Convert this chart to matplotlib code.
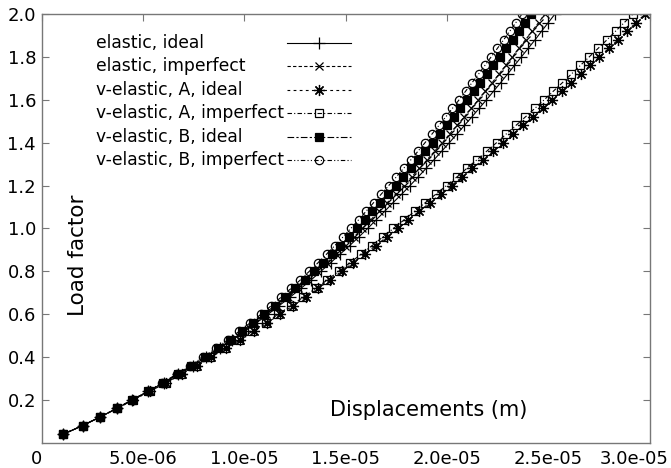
import matplotlib
matplotlib.use("Agg")
import matplotlib.pyplot as plt

# load steps (load factor) and displacements (in 1e-6 m)
load = [0.04, 0.08, 0.12, 0.16, 0.20, 0.24, 0.28, 0.32, 0.36, 0.40,
        0.44, 0.48, 0.52, 0.56, 0.60, 0.64, 0.68, 0.72, 0.76, 0.80,
        0.84, 0.88, 0.92, 0.96, 1.00, 1.04, 1.08, 1.12, 1.16, 1.20,
        1.24, 1.28, 1.32, 1.36, 1.40, 1.44, 1.48, 1.52, 1.56, 1.60,
        1.64, 1.68, 1.72, 1.76, 1.80, 1.84, 1.88, 1.92, 1.96, 2.00]

elastic_ideal = [1.07, 2.02, 2.88, 3.70, 4.47, 5.26, 6.02, 6.75, 7.45, 8.12,
                 8.78, 9.41, 10.02, 10.61, 11.18, 11.73, 12.27, 12.79, 13.30, 13.78,
                 14.26, 14.73, 15.20, 15.65, 16.09, 16.51, 16.93, 17.34, 17.77, 18.18,
                 18.58, 18.97, 19.36, 19.74, 20.12, 20.49, 20.86, 21.23, 21.59, 21.95,
                 22.30, 22.65, 22.99, 23.33, 23.67, 24.01, 24.35, 24.67, 25.00, 25.33]

elastic_imperfect = [1.07, 2.02, 2.88, 3.70, 4.47, 5.25, 6.01, 6.73, 7.43, 8.09,
                     8.74, 9.35, 9.95, 10.52, 11.08, 11.62, 12.14, 12.65, 13.14, 13.61,
                     14.07, 14.53, 14.97, 15.41, 15.83, 16.24, 16.65, 17.05, 17.47, 17.87,
                     18.26, 18.64, 19.02, 19.39, 19.77, 20.13, 20.49, 20.85, 21.20, 21.55,
                     21.89, 22.23, 22.57, 22.90, 23.23, 23.55, 23.88, 24.20, 24.52, 24.84]

velastic_a_ideal = [1.07, 2.02, 2.89, 3.73, 4.52, 5.35, 6.15, 6.92, 7.66, 8.37,
                    9.10, 9.80, 10.48, 11.14, 11.78, 12.42, 13.04, 13.65, 14.24, 14.81,
                    15.38, 15.94, 16.49, 17.03, 17.56, 18.10, 18.63, 19.16, 19.70, 20.23,
                    20.75, 21.26, 21.77, 22.27, 22.77, 23.26, 23.75, 24.24, 24.72, 25.20,
                    25.67, 26.14, 26.60, 27.06, 27.52, 27.98, 28.44, 28.88, 29.33, 29.78]

velastic_a_imperfect = [1.07, 2.02, 2.89, 3.73, 4.52, 5.34, 6.13, 6.89, 7.62, 8.32,
                        9.04, 9.73, 10.40, 11.05, 11.68, 12.31, 12.92, 13.52, 14.10, 14.66,
                        15.22, 15.77, 16.31, 16.84, 17.36, 17.89, 18.41, 18.93, 19.46, 19.98,
                        20.49, 20.98, 21.48, 21.96, 22.45, 22.92, 23.40, 23.87, 24.34, 24.80,
                        25.25, 25.70, 26.14, 26.58, 27.02, 27.46, 27.90, 28.32, 28.75, 29.18]

velastic_b_ideal = [1.07, 2.02, 2.88, 3.70, 4.47, 5.25, 5.99, 6.71, 7.39, 8.05,
                    8.68, 9.29, 9.87, 10.44, 10.98, 11.50, 12.01, 12.50, 12.98, 13.43,
                    13.87, 14.31, 14.73, 15.15, 15.55, 15.94, 16.32, 16.70, 17.09, 17.47,
                    17.85, 18.21, 18.58, 18.93, 19.29, 19.64, 19.98, 20.33, 20.66, 21.00,
                    21.33, 21.65, 21.98, 22.29, 22.61, 22.92, 23.24, 23.54, 23.85, 24.15]

velastic_b_imperfect = [1.07, 2.02, 2.88, 3.70, 4.47, 5.23, 5.96, 6.66, 7.33, 7.97,
                        8.59, 9.18, 9.75, 10.30, 10.83, 11.34, 11.83, 12.31, 12.77, 13.21,
                        13.64, 14.06, 14.47, 14.87, 15.26, 15.64, 16.01, 16.38, 16.76, 17.13,
                        17.50, 17.86, 18.22, 18.57, 18.92, 19.26, 19.60, 19.94, 20.27, 20.60,
                        20.92, 21.24, 21.56, 21.87, 22.18, 22.49, 22.80, 23.10, 23.40, 23.70]

labels = ["elastic, ideal", "elastic, imperfect", "v-elastic, A, ideal",
          "v-elastic, A, imperfect", "v-elastic, B, ideal", "v-elastic, B, imperfect"]
series = [elastic_ideal, elastic_imperfect, velastic_a_ideal,
          velastic_a_imperfect, velastic_b_ideal, velastic_b_imperfect]

xticks = [0, 5e-6, 1e-5, 1.5e-5, 2e-5, 2.5e-5, 3e-5]
xticklabels = ["0", "5.0e-06", "1.0e-05", "1.5e-05", "2.0e-05", "2.5e-05", "3.0e-05"]
yticks = [0.2, 0.4, 0.6, 0.8, 1.0, 1.2, 1.4, 1.6, 1.8, 2.0]

# line styles in the gnuplot look
styles = [
    dict(ls="-", marker="+", ms=8, mfc="none"),
    dict(ls=(0, (3, 2)), marker="x", ms=6, mfc="none"),
    dict(ls=(0, (2.5, 3)), marker=(8, 2, 0), ms=8, mfc="none"),
    dict(ls=(0, (4, 2, 1, 2)), marker="s", ms=6, mfc="none"),
    dict(ls=(0, (6, 2, 2, 2)), marker="s", ms=6, mfc="black"),
    dict(ls=(0, (4, 2, 1, 2, 1, 2)), marker="o", ms=6, mfc="none"),
]

fig = plt.figure(figsize=(6.71, 4.68), dpi=100)
ax = fig.add_axes([0.0621, 0.054, 0.906, 0.916])

for ys, st in zip(series, styles):
    xs = [v * 1e-6 for v in ys]
    ax.plot(xs, load, color="black", lw=0.8, mec="black", mew=0.9, **st)

ax.set_xlim(0, 3e-5)
ax.set_ylim(0, 2.0)
ax.set_xticks(xticks)
# last label is drawn separately, pulled left so it fits in the picture
ax.set_xticklabels(xticklabels[:-1] + [""])
ax.annotate(xticklabels[-1], xy=(xticks[-1], 0), xycoords=("data", "axes fraction"),
            xytext=(-11, -5), textcoords="offset points", ha="center", va="top",
            fontsize=13, annotation_clip=False)
ax.set_yticks(yticks)
ax.set_yticklabels(["%.1f" % t for t in yticks])
ax.xaxis.get_ticklabels()[0].set_horizontalalignment("right")

ax.tick_params(axis="both", direction="in", length=5, color="#777777",
               labelsize=13, top=True, right=True)
ax.tick_params(axis="x", bottom=False, pad=5)
ax.tick_params(axis="y", pad=4)
for sp in ax.spines.values():
    sp.set_color("#777777")
    sp.set_linewidth(1.0)

ax.text(0.636, 0.076, "Displacements (m)", transform=ax.transAxes,
        ha="center", va="center", fontsize=15)
ax.text(0.060, 0.437, "Load factor", transform=ax.transAxes,
        ha="center", va="center", rotation=90, fontsize=15.5)

# key: text left-aligned, line sample to the right (gnuplot style)
for i, (lab, st) in enumerate(zip(labels, styles)):
    y = 0.9324 - i * 0.0546
    ax.text(0.0893, y, lab, transform=ax.transAxes, ha="left", va="center",
            fontsize=12.3)
    ax.plot([0.4036, 0.5089], [y, y], transform=ax.transAxes, color="black",
            lw=0.8, ls=st["ls"], clip_on=False)
    ax.plot([0.4562], [y], transform=ax.transAxes, color="black", ls="none",
            marker=st["marker"], ms=st["ms"], mfc=st["mfc"], mec="black",
            mew=0.9, clip_on=False)

fig.savefig("out.png", dpi=100)
